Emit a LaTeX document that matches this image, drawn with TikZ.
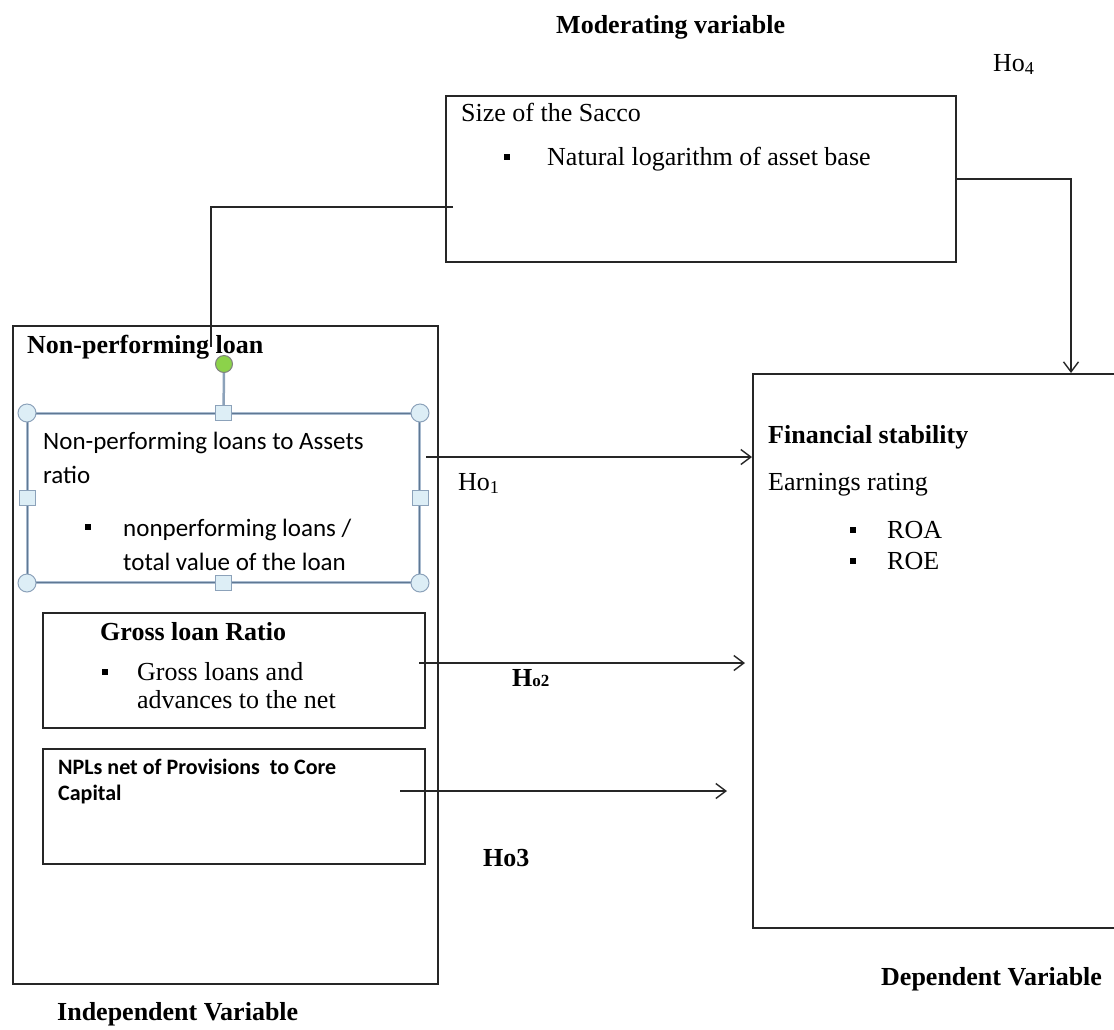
\documentclass[tikz,border=0pt]{standalone}
\usepackage{fontspec}
\setmainfont{Liberation Serif}
\newfontfamily\calib{Carlito}
\usetikzlibrary{arrows.meta}

\definecolor{framedark}{HTML}{5F7894}
\definecolor{framelight}{HTML}{A9BBCF}
\definecolor{handlefill}{HTML}{DDEEF6}
\definecolor{handleline}{HTML}{8CA2BA}
\definecolor{rotgreen}{HTML}{8CD24A}

\newcommand{\sersz}{\fontsize{26}{30}\selectfont}
\newcommand{\calsz}{\calib\fontsize{25}{30}\selectfont}

\tikzset{
  box/.style={draw=black!85, line width=1.6pt, rectangle, inner sep=0pt, anchor=north west},
  selbox/.style={draw=framelight, double=framedark, line width=1pt, double distance=1.8pt, rectangle, inner sep=0pt, anchor=north west},
  hcirc/.style={circle, fill=handlefill, draw=handleline, line width=1pt, minimum size=18pt, inner sep=0pt},
  hsq/.style={rectangle, fill=handlefill, draw=handleline, line width=1pt, minimum width=16pt, minimum height=15pt, inner sep=0pt},
  greenball/.style={circle, fill=rotgreen, draw=gray, line width=1pt, minimum width=17pt, inner sep=0pt},
  stem/.style={draw=handleline, line width=2.5pt},
  lbl/.style={anchor=base west, inner sep=0pt, font=\sersz},
  blbl/.style={anchor=base west, inner sep=0pt, font=\sersz\bfseries},
  clbl/.style={anchor=base west, inner sep=0pt, font=\calsz},
  bullet/.style={rectangle, fill=black, minimum size=6pt, inner sep=0pt},
  conn/.style={draw=black!85, line width=1.6pt}
}

\begin{document}
\begin{tikzpicture}[x=1pt, y=-1pt, >={Straight Barb[length=10pt,width=15pt,line width=1.4pt]}]
  \useasboundingbox (0,0) rectangle (1114,1029);
  \clip (0,0) rectangle (1114,1029);

  % boxes
  \node[box, minimum width=510pt, minimum height=166pt] (size) at (445,95) {};
  \node[box, minimum width=425pt, minimum height=658pt] (npl) at (12,325) {};
  \node[box, minimum width=382pt, minimum height=115pt] (gross) at (42,612) {};
  \node[box, minimum width=382pt, minimum height=115pt] (core) at (42,748) {};
  \node[box, minimum width=420pt, minimum height=554pt] (fin) at (752,373) {};

  % selected text box with its handles
  \node[selbox, minimum width=392pt, minimum height=169pt] (sel) at (27,413) {};
  \node[greenball] (rot) at (224,364) {};
  \draw[stem] (sel.north) -- (rot.south);
  \foreach \a in {north west, north east, south west, south east}
    \node[hcirc] at (sel.\a) {};
  \foreach \a in {north, south, west, east}
    \node[hsq] at (sel.\a) {};

  % titles
  \node[blbl] (modttl) at (556,33) {Moderating variable};
  \node[lbl] (ho4) at (993,71) {Ho\textsubscript{4}};
  \node[blbl] (depttl) at (881,985) {Dependent Variable};
  \node[blbl] (indttl) at (57,1020) {Independent Variable};

  % moderating box
  \node[lbl] (sizetxt) at (461,121) {Size of the Sacco};
  \node[bullet] (b1) at (507,157) {};
  \node[lbl] (lntxt) at (547,165) {Natural logarithm of asset base};

  % independent box
  \node[blbl] (npltxt) at (27,353) {Non-performing loan};
  \node[clbl] (ratio1) at (43,449) {Non-performing loans to Assets};
  \node[clbl] (ratio2) at (43,483) {ratio};
  \node[bullet] (b2) at (88,527) {};
  \node[clbl] (npa1) at (123,536) {nonperforming loans /};
  \node[clbl] (npa2) at (123,570) {total value of the loan};

  \node[blbl] (grosstxt) at (100,640) {Gross loan Ratio};
  \node[bullet] (b3) at (105,672) {};
  \node[lbl] (gl1) at (137,680) {Gross loans and};
  \node[lbl] (gl2) at (137,708) {advances to the net};

  \node[anchor=base west, inner sep=0pt, font=\calib\bfseries\fontsize{22}{26}\selectfont] (core1) at (58,774) {NPLs net of Provisions\ \ to Core};
  \node[anchor=base west, inner sep=0pt, font=\calib\bfseries\fontsize{22}{26}\selectfont] (core2) at (58,800) {Capital};

  % dependent box
  \node[blbl] (fintxt) at (768,443) {Financial stability};
  \node[lbl] (earn) at (768,490) {Earnings rating};
  \node[bullet] (b4) at (853,530) {};
  \node[lbl] (roa) at (887,538) {ROA};
  \node[bullet] (b5) at (853,561) {};
  \node[lbl] (roe) at (887,569) {ROE};

  % hypothesis labels
  \node[lbl] (ho1) at (458,490) {Ho\textsubscript{1}};
  \node[blbl] (ho2) at (512,686) {H{\fontsize{17}{17}\selectfont o2}};
  \node[blbl] (ho3) at (483,866) {Ho3};

  % connectors
  \coordinate (szl) at (453,207);
  \coordinate (nplend) at (211,347);
  \draw[conn] (szl) -| (nplend);
  \coordinate (finin) at (1071,373);
  \draw[conn,->] (size.east) -| (finin);

  \coordinate (h1s) at (426,457);
  \draw[conn,->] (h1s) -- (h1s -| fin.west);
  \coordinate (h2s) at (419,663);
  \coordinate (h2e) at (745,663);
  \draw[conn,->] (h2s) -- (h2e);
  \coordinate (h3s) at (400,791);
  \coordinate (h3e) at (727,791);
  \draw[conn,->] (h3s) -- (h3e);
\end{tikzpicture}
\end{document}
